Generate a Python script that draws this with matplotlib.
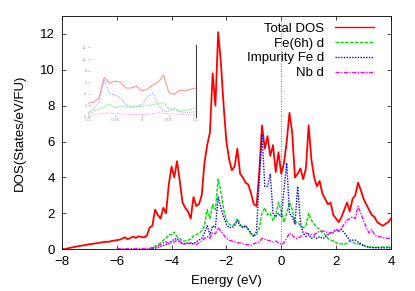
import numpy as np
import matplotlib
matplotlib.use("Agg")
import matplotlib.pyplot as plt

plt.rcParams['font.family'] = ['Liberation Sans', 'DejaVu Sans']
plt.rcParams['font.size'] = 9.5

# total DOS, -8 .. 4 eV, step 0.1
total_dos = [0.00, 0.00, 0.03, 0.07, 0.10, 0.13, 0.16, 0.19, 0.21, 0.24,
             0.27, 0.29, 0.31, 0.34, 0.36, 0.39, 0.41, 0.40, 0.45, 0.47,
             0.50, 0.52, 0.58, 0.66, 0.55, 0.62, 0.70, 0.62, 0.72, 0.68,
             0.65, 0.75, 1.20, 1.30, 2.20, 1.90, 1.70, 2.30, 2.00, 3.60,
             4.60, 4.00, 4.90, 3.80, 2.60, 2.30, 2.10, 1.70, 2.90, 2.40,
             2.50, 3.00, 4.80, 5.80, 6.50, 9.80, 8.00, 12.10, 10.40, 8.00,
             6.00, 5.00, 4.40, 4.60, 5.60, 4.20, 4.00, 3.70, 3.60, 3.10,
             2.50, 2.40, 4.30, 6.90, 5.60, 6.30, 5.20, 5.80, 4.30, 5.40,
             4.20, 4.80, 6.00, 7.60, 6.50, 4.00, 4.20, 4.50, 3.90, 4.50,
             6.90, 5.00, 4.00, 3.50, 3.80, 3.10, 2.80, 2.50, 2.60, 1.90,
             1.70, 1.50, 1.80, 2.20, 2.60, 2.10, 2.80, 3.00, 3.70, 3.30,
             2.80, 2.50, 2.20, 1.90, 1.80, 1.50, 1.40, 1.30, 1.40, 1.50,
             1.70]

# Fe(6h) d and impurity Fe d, -4.8 .. 4 eV
fe6h_d = [0.02, 0.05, 0.15, 0.25, 0.35, 0.50, 0.60, 0.80, 0.80, 0.95,
          0.70, 0.60, 0.45, 0.45, 0.50, 0.55, 0.75, 0.80, 0.90, 1.00,
          1.30, 2.20, 1.70, 2.50, 2.20, 3.90, 3.20, 2.20, 1.60, 1.40,
          1.30, 1.40, 1.70, 1.40, 1.20, 1.30, 1.10, 0.80, 0.75, 0.80,
          1.20, 2.00, 2.30, 1.90, 2.00, 1.60, 1.90, 2.60, 2.10, 1.50,
          2.00, 2.60, 2.20, 1.50, 1.50, 1.30, 1.20, 1.30, 2.00, 1.60,
          1.40, 1.20, 1.10, 0.90, 0.80, 0.60, 0.50, 0.45, 0.35, 0.30,
          0.30, 0.25, 0.35, 0.45, 0.40, 0.30, 0.30, 0.25, 0.20, 0.15,
          0.12, 0.12, 0.10, 0.10, 0.10, 0.12, 0.12, 0.12, 0.15]

imp_fe_d = [0.00, 0.02, 0.05, 0.10, 0.15, 0.20, 0.25, 0.30, 0.45, 0.55,
            0.60, 0.45, 0.30, 0.30, 0.35, 0.30, 0.30, 0.40, 0.50, 0.60,
            0.90, 1.30, 0.80, 1.30, 1.20, 2.90, 2.30, 1.80, 1.40, 1.20,
            1.20, 1.30, 1.60, 1.30, 1.20, 1.30, 1.10, 0.90, 0.70, 1.00,
            3.90, 6.40, 3.50, 3.50, 4.20, 2.00, 1.80, 2.00, 1.80, 3.30,
            4.80, 2.00, 1.80, 1.40, 3.50, 1.50, 0.90, 0.70, 0.80, 0.60,
            0.70, 0.60, 0.70, 0.60, 0.65, 0.80, 0.90, 0.90, 1.10, 1.00,
            1.10, 0.90, 0.70, 0.50, 0.50, 0.50, 0.40, 0.30, 0.20, 0.15,
            0.10, 0.08, 0.08, 0.07, 0.07, 0.07, 0.07, 0.07, 0.07]

# Nb d, -6 .. 4 eV
nb_d = [0.02, 0.02, 0.02, 0.02, 0.02, 0.02, 0.02, 0.02, 0.03, 0.03,
        0.03, 0.04, 0.05, 0.08, 0.10, 0.15, 0.25, 0.35, 0.40, 0.30,
        0.35, 0.40, 0.50, 0.40, 0.30, 0.30, 0.30, 0.35, 0.30, 0.25,
        0.35, 0.45, 0.60, 0.70, 0.60, 0.90, 0.85, 1.20, 1.00, 0.80,
        0.60, 0.50, 0.45, 0.40, 0.35, 0.35, 0.30, 0.25, 0.25, 0.20,
        0.30, 0.35, 0.40, 0.60, 0.55, 0.50, 0.45, 0.40, 0.45, 0.35,
        0.25, 0.35, 0.60, 0.90, 0.80, 0.60, 0.60, 0.70, 0.80, 0.90,
        0.85, 0.80, 0.80, 0.90, 1.00, 1.00, 1.00, 0.90, 0.90, 1.00,
        1.10, 1.00, 1.20, 1.40, 1.60, 1.70, 1.80, 1.70, 2.40, 2.00,
        1.60, 1.20, 0.90, 1.10, 0.80, 0.70, 0.70, 0.65, 0.60, 0.60,
        0.62]

# small inset picture, -0.1 .. 0.1
inset_total = [2.4, 2.5, 3.2, 6.8, 5.8, 6.2, 6.0, 5.0, 5.0, 5.3, 4.5,
               4.8, 5.5, 6.0, 7.2, 4.2, 3.9, 4.6, 4.5, 4.8, 5.0]
inset_imp = [0.8, 1.3, 2.6, 6.3, 4.0, 3.8, 3.3, 2.2, 1.6, 1.8, 2.1,
             3.5, 4.2, 2.0, 1.0, 1.0, 1.6, 0.9, 0.8, 0.8, 0.9]
inset_fe6h = [0.5, 0.9, 1.3, 1.8, 2.2, 1.6, 1.8, 1.7, 1.8, 1.9, 1.8,
              2.0, 2.1, 2.3, 2.5, 1.4, 1.2, 1.0, 1.1, 1.3, 1.6]
inset_nb = [0.2, 0.3, 0.5, 0.65, 0.7, 0.6, 0.55, 0.45, 0.4, 0.4, 0.4,
            0.45, 0.6, 0.7, 0.65, 0.55, 0.5, 0.45, 0.4, 0.35, 0.3]

e_total = np.linspace(-8, 4, len(total_dos))
e_fe = np.linspace(-4.8, 4, len(fe6h_d))
e_nb = np.linspace(-6, 4, len(nb_d))
e_inset = np.linspace(-0.1, 0.1, len(inset_total))

fig = plt.figure(figsize=(4.15, 2.91), dpi=100)
ax = fig.add_axes([0.149, 0.144, 0.793, 0.801])

ax.plot(e_total, total_dos, color='#ff0000', lw=1.3, label='Total DOS')
ax.plot(e_fe, fe6h_d, color='#00dd00', lw=1.0, ls=(0, (2.5, 1)), label='Fe(6h) d')
ax.plot(e_fe, imp_fe_d, color='#0000ff', lw=1.0, ls=(0, (1, 1)), label='Impurity Fe d')
ax.plot(e_nb, nb_d, color='#ff00ff', lw=1.0, ls=(0, (3, 1, 1, 1)), label='Nb d')
ax.axvline(0, color='#555555', lw=0.6, ls=(0, (1, 2)))

ax.set_xlim(-8, 4)
ax.set_ylim(0, 13)
ax.set_xticks([-8, -6, -4, -2, 0, 2, 4])
ax.set_yticks([0, 2, 4, 6, 8, 10, 12])
ax.tick_params(direction='in', length=3, width=0.5, top=True, right=True, pad=5)
for s in ax.spines.values():
    s.set_linewidth(0.6)
ax.set_xlabel('Energy (eV)', labelpad=5)
ax.set_ylabel('DOS(States/eV/FU)', labelpad=10)

leg = ax.legend(loc='upper right', bbox_to_anchor=(0.965, 0.995), frameon=False,
                markerfirst=False, handlelength=3.0, handletextpad=0.8,
                labelspacing=0.2, borderaxespad=0)
leg.get_lines()[0].set_linewidth(1.0)
# right-align the legend texts like gnuplot does
leg._legend_box._children[-1]._children[0].align = 'right'

# washed-out inset
ins = fig.add_axes([0.212, 0.598, 0.260, 0.249])
ins.plot(e_inset, inset_total, color='#ff8888', lw=0.7)
ins.plot(e_inset, inset_imp, color='#9999ff', lw=0.7, ls=(0, (1, 1)))
ins.plot(e_inset, inset_fe6h, color='#88ee88', lw=0.7, ls=(0, (2.5, 1)))
ins.plot(e_inset, inset_nb, color='#ffaaff', lw=0.7, ls=(0, (3, 1, 1, 1)))
ins.set_xlim(-0.1, 0.1)
ins.set_ylim(0, 12.5)
ins.set_xticks([-0.1, -0.05, 0, 0.05, 0.1])
ins.set_xticklabels(['-0.1', '-0.05', '0', '0.05', '0.1'])
ins.set_yticks([0, 2, 4, 6, 8, 10, 12])
ins.tick_params(direction='in', length=1.5, width=0.4, labelsize=3, colors='#999999', pad=1)
ins.patch.set_alpha(0)
for k in ['left', 'top', 'bottom']:
    ins.spines[k].set_visible(False)
ins.spines['right'].set_color('#444444')
ins.spines['right'].set_linewidth(0.8)

fig.savefig('out.png', dpi=100)
